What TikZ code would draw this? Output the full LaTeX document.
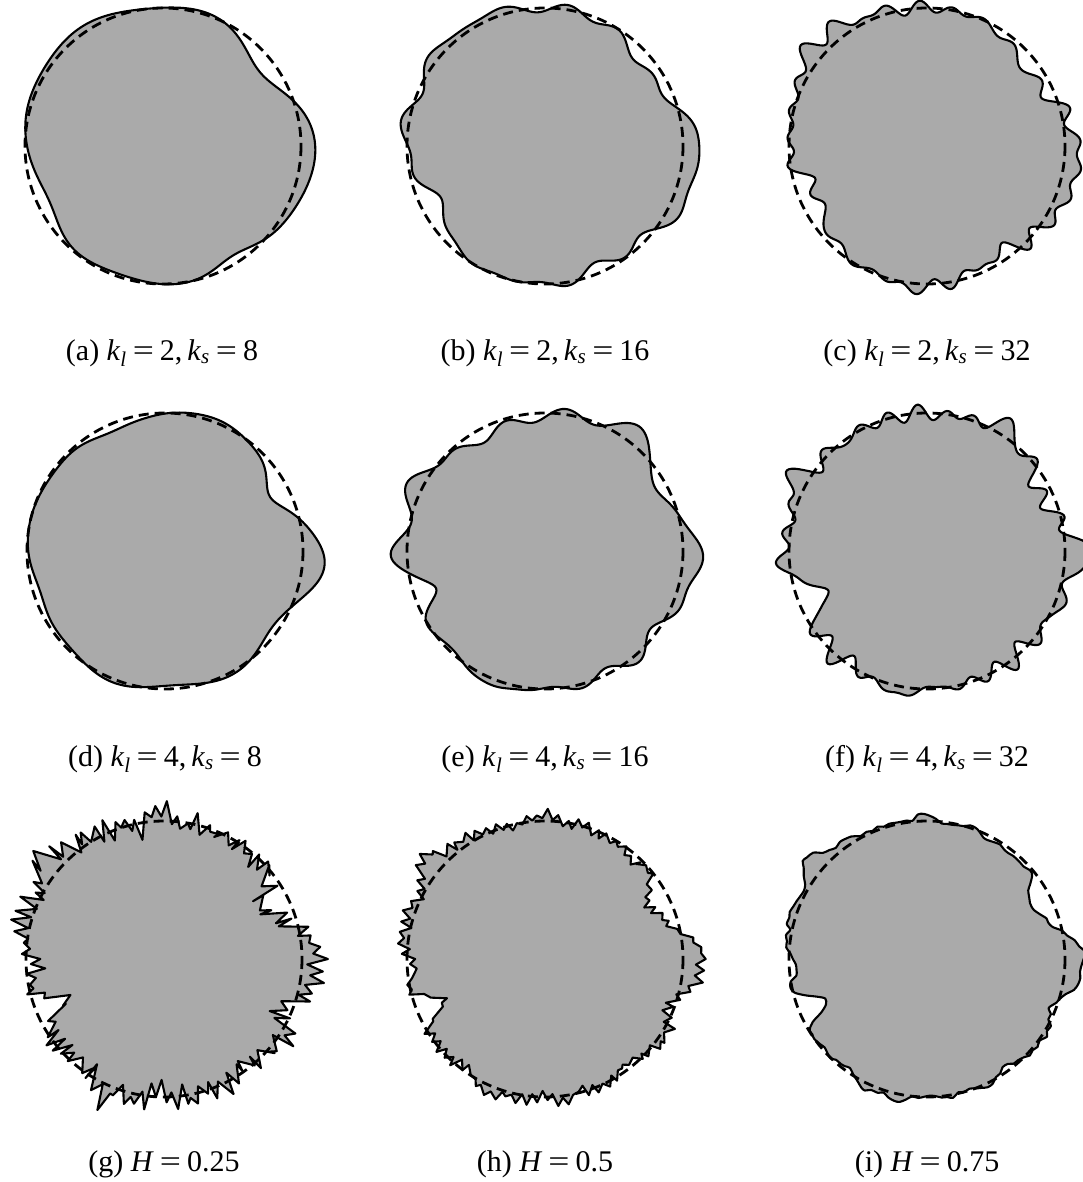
\documentclass[tikz,border=0pt]{standalone}
\usepackage{fontspec}
\usepackage{graphicx}
\setmainfont{Liberation Serif}
\definecolor{blobgray}{gray}{0.667}
\tikzset{
  blob/.style={fill=blobgray, draw=black, line width=2.1pt, line join=round},
  refcirc/.style={draw=black, line width=2.8pt, dash pattern=on 10pt off 6pt},
  captxt/.style={anchor=base, font=\fontsize{30}{36}\selectfont, inner sep=0pt},
}
\newcommand\kvar[1]{\textit{k}\textsubscript{\textit{#1}}}
\newcommand\eqs{\hspace{0.2em}\scalebox{1.25}[1]{=}\hspace{0.2em}}
\begin{document}
\begin{tikzpicture}[x=1pt,y=-1pt,
  declare function={
    bp(\x,\m,\v)=exp(max(-10,-(1-cos(\x-\m))/\v));
    zz(\x)=2*cos(42.5*\x)*cos(42.5*\x)-1;
    Rone(\x)=15*bp(\x,8,0.1)-14*bp(\x,325,0.06)-9*bp(\x,57,0.03)-12*bp(\x,150,0.05)+7*bp(\x,232,0.08);
    ra(\x)=138+Rone(\x)+2*cos(5*\x+40)+1.5*cos(7*\x+100);
    rb(\x)=138+Rone(\x)+3*bp(\x,3,0.03)-8*bp(\x,155,0.02)+5*bp(\x,180,0.01)+3*cos(13*\x+20)+2.5*cos(16*\x+200)+2*cos(11*\x+90);
    rc(\x)=138+Rone(\x)-10*bp(\x,159,0.01)+10*bp(\x,220,0.03)+6*bp(\x,95,0.01)+3.5*cos(23*\x+10)+3*cos(29*\x+130)+2.5*cos(19*\x+250)+2*cos(31*\x+60);
    Rtwo(\x)=22*bp(\x,5,0.03)-20*bp(\x,333,0.02)-10*bp(\x,244,0.03)-8*bp(\x,162,0.03)-5*bp(\x,35,0.03)+3*bp(\x,272,0.02);
    rd(\x)=138+Rtwo(\x)+2*cos(6*\x+30)+1.5*cos(8*\x+200);
    re(\x)=138+20*bp(\x,4,0.03)-10*bp(\x,333,0.02)+12*bp(\x,177,0.008)-22*bp(\x,160,0.008)+12*bp(\x,205,0.02)+16*bp(\x,307,0.015)+8*bp(\x,109,0.01)-10*bp(\x,244,0.05)+3*cos(14*\x+30)+2.5*cos(11*\x+160)+2*cos(16*\x+290);
    rf(\x)=138+26*bp(\x,2,0.01)-32*bp(\x,158,0.008)+10*bp(\x,178,0.006)+16*bp(\x,207,0.01)+12*bp(\x,302,0.008)-12*bp(\x,334,0.02)+12*bp(\x,103,0.004)+8*bp(\x,23,0.005)+4*cos(27*\x+30)+3.5*cos(32*\x+120)+3*cos(23*\x+250)+2.5*cos(19*\x+10);
    Rthree(\x)=24*bp(\x,0,0.02)-30*bp(\x,158,0.006)-17*bp(\x,335,0.06)+12*bp(\x,222,0.01)+8*bp(\x,215,0.05)+10*bp(\x,102,0.006)+6*bp(\x,258,0.01);
    rg(\x)=138+Rthree(\x)+4*cos(9*\x+40)+4*cos(14*\x+200)+3*cos(21*\x+100)+(3+9*abs(rand))*zz(\x)+6*rand;
    rh(\x)=138+Rthree(\x)+3*cos(9*\x+40)+3*cos(14*\x+200)+2*cos(21*\x+100)+(1.5+4*abs(rand))*zz(\x)+3*rand;
    ri(\x)=138+Rthree(\x)+2.5*cos(9*\x+40)+2.5*cos(14*\x+200)+2*cos(21*\x+100)+2.5*rand;
  }]
\useasboundingbox (0,0) rectangle (1083,1182);
\pgfmathsetseed{4242}
% centres
\coordinate (ca) at (163,146);
\coordinate (cb) at (545,146);
\coordinate (cc) at (927,146);
\coordinate (cd) at (165,551);
\coordinate (ce) at (545,551);
\coordinate (cf) at (927,551);
\coordinate (cg) at (164,959);
\coordinate (ch) at (545,959);
\coordinate (ci) at (927,959);
% row 1
\draw[blob,shift={(ca)}] plot[domain=0:360,samples=361] (\x:{ra(\x)}) -- cycle;
\draw[refcirc] (ca) circle[radius=138];
\draw[blob,shift={(cb)}] plot[domain=0:360,samples=361] (\x:{rb(\x)}) -- cycle;
\draw[refcirc] (cb) circle[radius=138];
\draw[blob,shift={(cc)}] plot[domain=0:360,samples=541] (\x:{rc(\x)}) -- cycle;
\draw[refcirc] (cc) circle[radius=138];
% row 2
\draw[blob,shift={(cd)}] plot[domain=0:360,samples=361] (\x:{rd(\x)}) -- cycle;
\draw[refcirc] (cd) circle[radius=138];
\draw[blob,shift={(ce)}] plot[domain=0:360,samples=361] (\x:{re(\x)}) -- cycle;
\draw[refcirc] (ce) circle[radius=138];
\draw[blob,shift={(cf)}] plot[domain=0:360,samples=541] (\x:{rf(\x)}) -- cycle;
\draw[refcirc] (cf) circle[radius=138];
% row 3
\draw[blob,shift={(cg)}] plot[domain=0:357.88,samples=170] (\x:{rg(\x)}) -- cycle;
\draw[refcirc] (cg) circle[radius=138];
\draw[blob,shift={(ch)}] plot[domain=0:357.88,samples=170] (\x:{rh(\x)}) -- cycle;
\draw[refcirc] (ch) circle[radius=138];
\draw[blob,shift={(ci)}] plot[smooth cycle,domain=0:357.6,samples=150] (\x:{ri(\x)});
\draw[refcirc] (ci) circle[radius=138];
% captions
\node[captxt] (capa) at (162,360) {(a) \kvar{l}\eqs 2,\,\kvar{s}\eqs 8};
\node[captxt] (capb) at (545,360) {(b) \kvar{l}\eqs 2,\,\kvar{s}\eqs 16};
\node[captxt] (capc) at (927,360) {(c) \kvar{l}\eqs 2,\,\kvar{s}\eqs 32};
\node[captxt] (capd) at (165,766) {(d) \kvar{l}\eqs 4,\,\kvar{s}\eqs 8};
\node[captxt] (cape) at (545,766) {(e) \kvar{l}\eqs 4,\,\kvar{s}\eqs 16};
\node[captxt] (capf) at (927,766) {(f) \kvar{l}\eqs 4,\,\kvar{s}\eqs 32};
\node[captxt] (capg) at (164,1171) {(g) \textit{H}\eqs 0.25};
\node[captxt] (caph) at (545,1171) {(h) \textit{H}\eqs 0.5};
\node[captxt] (capi) at (927,1171) {(i) \textit{H}\eqs 0.75};
\end{tikzpicture}
\end{document}
